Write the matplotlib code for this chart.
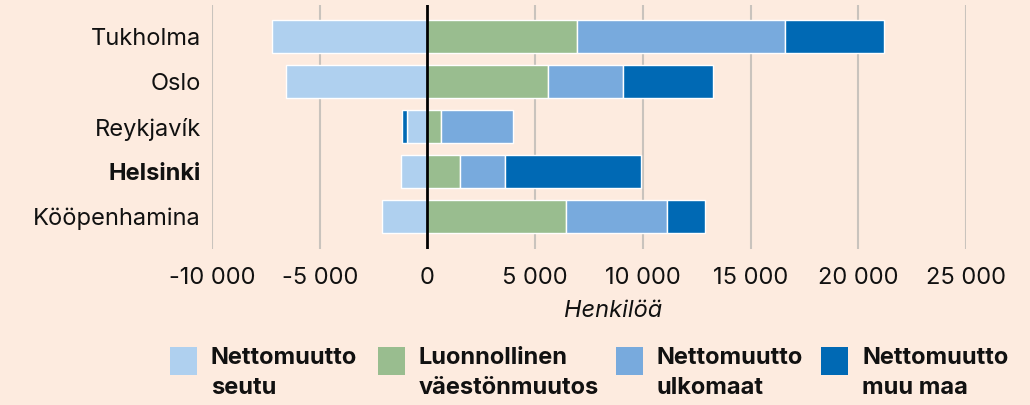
import numpy as np
import matplotlib.pyplot as plt
from matplotlib.patches import Rectangle

# data
cities = ['Tukholma', 'Oslo', 'Reykjavík', 'Helsinki', 'Kööpenhamina']
seutu = [-7200, -6550, -940, -1250, -2100]
luonnollinen = [6950, 5600, 650, 1530, 6420]
ulkomaat = [9650, 3480, 3340, 2090, 4700]
muu_maa = [4600, 4180, -250, 6280, 1770]

series_names = ['Nettomuutto\nseutu', 'Luonnollinen\nväestönmuutos',
                'Nettomuutto\nulkomaat', 'Nettomuutto\nmuu maa']
colors = ['#AFD0EF', '#99BD8F', '#78AADD', '#0069B4']
bg = '#FDEBDF'
txt = '#111111'

plt.rcParams['font.family'] = ['Inter', 'DejaVu Sans']

fig = plt.figure(figsize=(10.3, 4.05), dpi=100, facecolor=bg)
ax = fig.add_axes([212 / 1030, 1 - 249 / 405, (966 - 212) / 1030, 244 / 405])
ax.set_facecolor(bg)

y = np.arange(len(cities))
pos_base = np.zeros(len(cities))
neg_base = np.zeros(len(cities))
for vals, col in zip([seutu, luonnollinen, ulkomaat, muu_maa], colors):
    vals = np.array(vals, dtype=float)
    left = np.where(vals >= 0, pos_base, neg_base)
    ax.barh(y, vals, left=left, height=0.73, color=col,
            edgecolor='white', linewidth=1.0, zorder=3)
    pos_base = pos_base + np.where(vals > 0, vals, 0)
    neg_base = neg_base + np.where(vals < 0, vals, 0)

ax.set_xlim(-10000, 25000)
ax.set_ylim(4.72, -0.7)
ticks = np.arange(-10000, 25001, 5000)
ax.set_xticks(ticks)
ax.set_xticklabels([f'{t:,}'.replace(',', ' ') for t in ticks], fontsize=17, color=txt)
for t in ticks:
    if t != 0:
        ax.axvline(t, color='#C9C3BD', linewidth=1.5, zorder=1)
ax.axvline(0, color='black', linewidth=2, zorder=4)

ax.set_yticks(y)
ax.set_yticklabels(cities, fontsize=17, color=txt)
for lab in ax.get_yticklabels():
    if lab.get_text() == 'Helsinki':
        lab.set_fontweight('bold')
ax.tick_params(axis='both', length=0)
ax.tick_params(axis='y', pad=8)
ax.tick_params(axis='x', pad=13)
for s in ax.spines.values():
    s.set_visible(False)

fig.text(613 / 1030, 1 - 311 / 405, 'Henkilöä', fontsize=17, style='italic',
         ha='center', va='center', color=txt)

# legend
patch_x = [170, 378, 616, 821]
for px, name, col in zip(patch_x, series_names, colors):
    fig.add_artist(Rectangle((px / 1030, 1 - 375 / 405), 27 / 1030, 28 / 405,
                             transform=fig.transFigure, facecolor=col, edgecolor='none'))
    fig.text((px + 41) / 1030, 1 - 347 / 405, name, fontsize=17, fontweight='bold',
             ha='left', va='top', color=txt, linespacing=1.5)

plt.savefig('out.png', dpi=100, facecolor=bg)
